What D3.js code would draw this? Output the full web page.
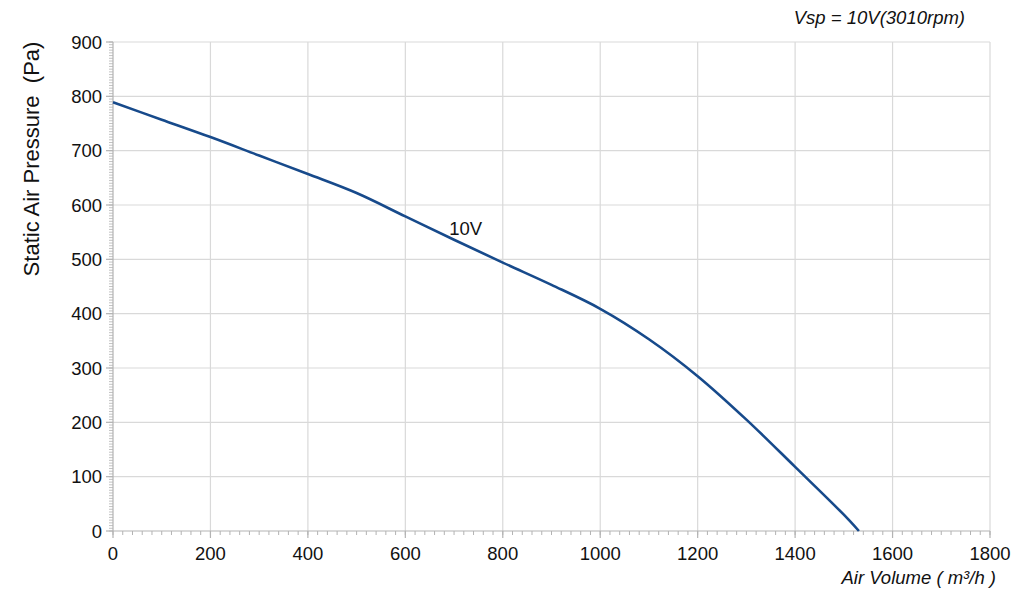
<!DOCTYPE html>
<html>
<head>
<meta charset="utf-8">
<script src="https://cdn.jsdelivr.net/npm/d3@7"></script>
<style>
  html, body { margin: 0; padding: 0; background: #fff; }
  svg { display: block; font-family: "Liberation Sans", Arial, Helvetica, sans-serif; }
</style>
</head>
<body>
<svg id="chart" width="1024" height="612"></svg>
<script>
// ---- data ----
const airVolume = [0, 100, 200, 300, 400, 500, 600, 700, 800, 900, 1000, 1100, 1200, 1300, 1400, 1500, 1531];
const pressure10V = [789, 757, 725, 691, 657, 622, 579, 536, 494, 453, 409, 353, 285, 205, 118, 30, 0];
const xTicks = [0, 200, 400, 600, 800, 1000, 1200, 1400, 1600, 1800];
const yTicks = [0, 100, 200, 300, 400, 500, 600, 700, 800, 900];
const seriesLabel = "10V";
const titleText = "Vsp = 10V(3010rpm)";
const xTitle = "Air Volume ( m³/h )";
const yTitle = "Static Air Pressure  (Pa)";

(function () {
// ---- layout ----
const svg = d3.select("#chart");
const pLeft = 113, pRight = 990, pTop = 42, pBottom = 531;

const x = d3.scaleLinear().domain([0, 1800]).range([pLeft, pRight]);
const y = d3.scaleLinear().domain([0, 900]).range([pBottom, pTop]);

const gridColor = "#d9d9d9";
const axisColor = "#b3b3b3";
const textColor = "#111";
const fs = 18.5;

// gridlines
svg.append("g").selectAll("line").data(xTicks.filter(d => d > 0)).join("line")
  .attr("x1", d => x(d)).attr("x2", d => x(d))
  .attr("y1", pTop).attr("y2", pBottom)
  .attr("stroke", gridColor).attr("stroke-width", 1.2);
svg.append("g").selectAll("line").data(yTicks.filter(d => d > 0)).join("line")
  .attr("x1", pLeft).attr("x2", pRight)
  .attr("y1", d => y(d)).attr("y2", d => y(d))
  .attr("stroke", gridColor).attr("stroke-width", 1.2);

// minor ticks
const xMinor = d3.range(0, 1801, 20);
svg.append("g").selectAll("line").data(xMinor).join("line")
  .attr("x1", d => x(d)).attr("x2", d => x(d))
  .attr("y1", pBottom).attr("y2", pBottom + 4)
  .attr("stroke", axisColor).attr("stroke-width", 1);
const yMinor = d3.range(0, 901, 5);
svg.append("g").selectAll("line").data(yMinor).join("line")
  .attr("x1", pLeft - 4).attr("x2", pLeft)
  .attr("y1", d => y(d)).attr("y2", d => y(d))
  .attr("stroke", axisColor).attr("stroke-width", 0.8);

// major ticks
svg.append("g").selectAll("line").data(xTicks).join("line")
  .attr("x1", d => x(d)).attr("x2", d => x(d))
  .attr("y1", pBottom).attr("y2", pBottom + 7)
  .attr("stroke", axisColor).attr("stroke-width", 1.2);
svg.append("g").selectAll("line").data(yTicks).join("line")
  .attr("x1", pLeft - 7).attr("x2", pLeft)
  .attr("y1", d => y(d)).attr("y2", d => y(d))
  .attr("stroke", axisColor).attr("stroke-width", 1.2);

// axis lines
svg.append("line").attr("x1", pLeft).attr("x2", pRight).attr("y1", pBottom).attr("y2", pBottom)
  .attr("stroke", axisColor).attr("stroke-width", 1.2);
svg.append("line").attr("x1", pLeft).attr("x2", pLeft).attr("y1", pTop).attr("y2", pBottom)
  .attr("stroke", axisColor).attr("stroke-width", 1.2);

// tick labels
svg.append("g").selectAll("text").data(xTicks).join("text")
  .attr("x", d => x(d)).attr("y", pBottom + 29)
  .attr("text-anchor", "middle").attr("font-size", fs).attr("fill", textColor)
  .text(d => d);
svg.append("g").selectAll("text").data(yTicks).join("text")
  .attr("x", pLeft - 11).attr("y", d => y(d) + 6.5)
  .attr("text-anchor", "end").attr("font-size", fs).attr("fill", textColor)
  .text(d => d);

// curve
const pts = airVolume.map((v, i) => [v, pressure10V[i]]);
const line = d3.line().x(d => x(d[0])).y(d => y(d[1])).curve(d3.curveCatmullRom.alpha(0.5));
svg.append("path").datum(pts)
  .attr("d", line).attr("fill", "none")
  .attr("stroke", "#174a8b").attr("stroke-width", 2.6);

// series label
svg.append("text").attr("x", x(690)).attr("y", y(545))
  .attr("font-size", fs).attr("fill", textColor).text(seriesLabel);

// titles
svg.append("text").attr("x", 965).attr("y", 24).attr("text-anchor", "end")
  .attr("font-size", fs).attr("font-style", "italic").attr("fill", textColor).text(titleText);
svg.append("text").attr("x", 996).attr("y", 584).attr("text-anchor", "end")
  .attr("font-size", fs).attr("font-style", "italic").attr("fill", textColor).text(xTitle);
svg.append("text").attr("transform", "translate(39,159) rotate(-90)")
  .attr("text-anchor", "middle").attr("font-size", 22).attr("fill", textColor)
  .style("white-space", "pre").text(yTitle);
})();
</script>
</body>
</html>
